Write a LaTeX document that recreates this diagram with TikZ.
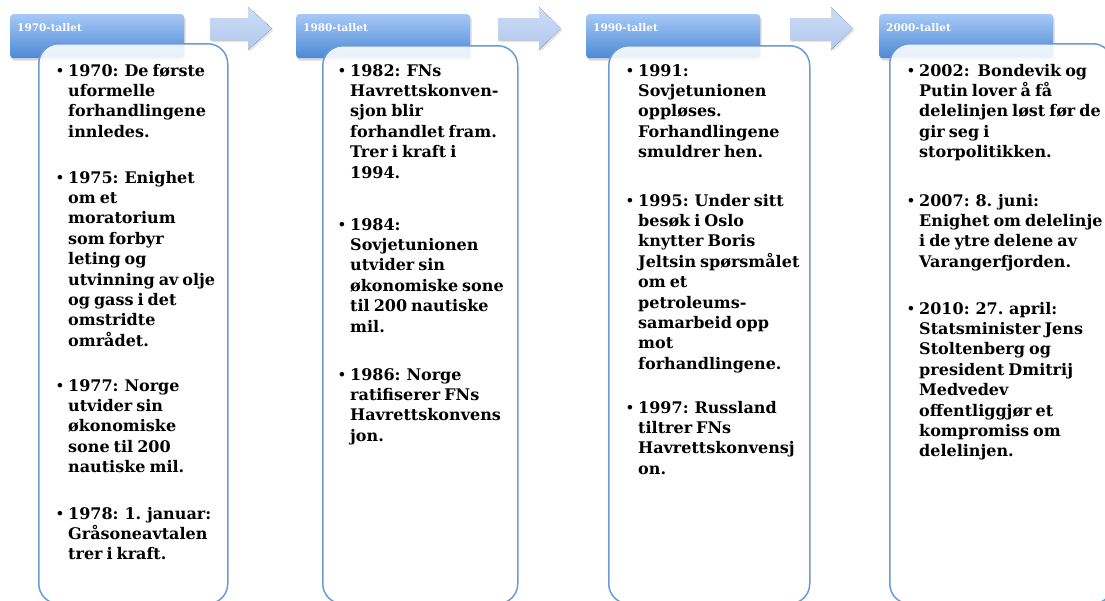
\documentclass[tikz,border=0pt]{standalone}
\usepackage{fontspec}
\setmainfont{DejaVu Serif}[WordSpace=0.72]
\usetikzlibrary{shadows}

\definecolor{tabtop}{RGB}{166,200,245}
\definecolor{tabbot}{RGB}{78,137,214}
\definecolor{boxline}{RGB}{107,155,214}
\definecolor{arrtop}{RGB}{204,220,245}
\definecolor{arrbot}{RGB}{178,201,238}

\newcommand{\bul}{\llap{\raisebox{0.8pt}{\fontsize{13}{13}\selectfont\textbullet}\hspace{4pt}}}

\begin{document}
\begin{tikzpicture}
		[x=1pt,y=-1pt,
		 tab/.style= {anchor=north west,minimum width=174pt,minimum height=44pt,
			rounded corners=3pt,top color=tabtop,bottom color=tabbot,
			drop shadow={shadow xshift=1.5pt,shadow yshift=-2.5pt,opacity=0.3}},
		 yr/.style= {anchor=west,inner sep=0pt,text=white,
			font=\fontsize{10.5}{12}\selectfont\bfseries},
		 box/.style= {anchor=north west,draw=boxline,line width=1.5pt,
			rounded corners=20pt,fill=white,fill opacity=0.88,text opacity=1},
		 item/.style= {anchor=base west,align=left,inner sep=0pt,
			font=\fontsize{16}{20.4}\selectfont\bfseries},
		 arr/.style= {top color=arrtop,bottom color=arrbot,
			drop shadow={shadow xshift=1.5pt,shadow yshift=-2pt,opacity=0.2}}]

		\useasboundingbox (0,0) rectangle (1105,600);
		\clip (0,0) rectangle (1105,600);

		% arrows between the decades
		\fill[arr] (210,18) -- (248,18) -- (248,7) -- (272,28.5) -- (248,50) -- (248,40) -- (210,40) -- cycle;
		\fill[arr] (498,18) -- (539,18) -- (539,7) -- (561,28.5) -- (539,50) -- (539,40) -- (498,40) -- cycle;
		\fill[arr] (790,18) -- (831,18) -- (831,7) -- (853,28.5) -- (831,50) -- (831,40) -- (790,40) -- cycle;

		% 1970 (items placed by the baseline of their last line)
		\node[tab] (t1) at (10,14) {};
		\node[yr] (y1) at (17,28) {1970-tallet};
		\node[box,minimum width=189pt,minimum height=560pt] (b1) at (38,43) {};

		\node[item] (i11) at (68,137.2) {\bul 1970: De første\\uformelle\\forhandlingene\\innledes.}
		;
		\node[item] (i12) at (68,346.2) {\bul 1975: Enighet\\om et\\moratorium\\som forbyr\\leting og\\utvinning av olje\\og gass i det\\omstridte\\området.}
		;
		\node[item] (i13) at (68,472.6) {\bul 1977: Norge\\utvider sin\\økonomiske\\sone til 200\\nautiske mil.}
		;
		\node[item] (i14) at (68,559.8) {\bul 1978: 1. januar:\\Gråsoneavtalen\\trer i kraft.}
		;

		% 1980
		\node[tab] (t2) at (296,14) {};
		\node[yr] (y2) at (303,28) {1980-tallet};
		\node[box,minimum width=195pt,minimum height=558pt] (b2) at (322,45) {};

		\node[item] (i21) at (350,178) {\bul 1982: FNs\\Havrettskonven-\\sjon blir\\forhandlet fram.\\Trer i kraft i\\1994.}
		;
		\node[item] (i22) at (350,332) {\bul 1984:\\Sovjetunionen\\utvider sin\\økonomiske sone\\til 200 nautiske\\mil.}
		;
		\node[item] (i23) at (350,441.2) {\bul 1986: Norge\\ratifiserer FNs\\Havrettskonvens\\jon.}
		;

		% 1990
		\node[tab] (t3) at (586,14) {};
		\node[yr] (y3) at (593,28) {1990-tallet};
		\node[box,minimum width=201pt,minimum height=558pt] (b3) at (608,45) {};

		\node[item] (i31) at (638,157.6) {\bul 1991:\\Sovjetunionen\\oppløses.\\Forhandlingene\\smuldrer hen.}
		;
		\node[item] (i32) at (638,369.2) {\bul 1995: Under sitt\\besøk i Oslo\\knytter Boris\\Jeltsin spørsmålet\\om et\\petroleums-\\samarbeid opp\\mot\\forhandlingene.}
		;
		\node[item] (i33) at (638,474.2) {\bul 1997: Russland\\tiltrer FNs\\Havrettskonvensj\\on.}
		;

		% 2000
		\node[tab] (t4) at (879,14) {};
		\node[yr] (y4) at (886,28) {2000-tallet};
		\node[box,minimum width=223pt,minimum height=560pt] (b4) at (889,43) {};

		\node[item] (i41) at (919,157.6) {\bul 2002:\ \ Bondevik og\\Putin lover å få\\delelinjen løst før de\\gir seg i\\storpolitikken.}
		;
		\node[item] (i42) at (919,267.2) {\bul 2007: 8. juni:\\Enighet om delelinje\\i de ytre delene av\\Varangerfjorden.}
		;
		\node[item] (i43) at (919,456.8) {\bul 2010: 27. april:\\Statsminister Jens\\Stoltenberg og\\president Dmitrij\\Medvedev\\offentliggjør et\\kompromiss om\\delelinjen.}
		;

	\end{tikzpicture}
\end{document}
